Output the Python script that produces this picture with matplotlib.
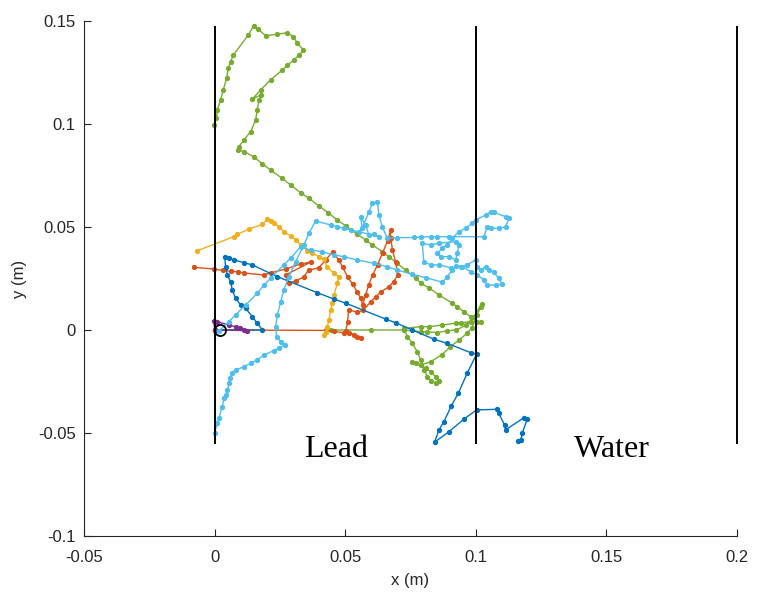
import matplotlib
matplotlib.use("Agg")
import matplotlib.pyplot as plt

# trajectory data (m)
green_x = [-0.0003, 0.0007, 0.0010, 0.0023, 0.0033, 0.0046, 0.0052, 0.0061, 0.0072, 0.0129,
           0.0150, 0.0166, 0.0195, 0.0237, 0.0278, 0.0301, 0.0317, 0.0340, 0.0323, 0.0304,
           0.0279, 0.0259, 0.0214, 0.0176, 0.0144, 0.0176, 0.0170, 0.0163, 0.0157, 0.0138,
           0.0112, 0.0093, 0.0089, 0.0112, 0.0150, 0.0183, 0.0214, 0.0259, 0.0291, 0.0329,
           0.0361, 0.0399, 0.0435, 0.0470, 0.0502, 0.0546, 0.0578, 0.0604, 0.0642, 0.0667,
           0.0699, 0.0731, 0.0770, 0.0789, 0.0820, 0.0859, 0.0910, 0.0929, 0.0954, 0.0980,
           0.1006, 0.1018, 0.0980, 0.0942, 0.0923, 0.0872, 0.0820, 0.0789, 0.0725, 0.0738,
           0.0757, 0.0776, 0.0789, 0.0802, 0.0815, 0.0827, 0.0846, 0.0859, 0.0846, 0.0827,
           0.0808, 0.0770, 0.0757, 0.0790, 0.0827, 0.0869, 0.0903, 0.0935, 0.0967, 0.0985,
           0.1006, 0.1018, 0.1022, 0.0993, 0.0964, 0.0925, 0.0891, 0.0853, 0.0815, 0.0789,
           0.0725, 0.0600, 0.0444]
green_y = [0.0995, 0.1028, 0.1068, 0.1117, 0.1165, 0.1222, 0.1270, 0.1302, 0.1335, 0.1432,
           0.1477, 0.1461, 0.1429, 0.1435, 0.1443, 0.1424, 0.1392, 0.1359, 0.1335, 0.1311,
           0.1286, 0.1262, 0.1214, 0.1165, 0.1120, 0.1141, 0.1117, 0.1068, 0.1019, 0.0963,
           0.0922, 0.0890, 0.0874, 0.0866, 0.0841, 0.0806, 0.0777, 0.0736, 0.0704, 0.0667,
           0.0639, 0.0602, 0.0569, 0.0534, 0.0505, 0.0465, 0.0437, 0.0413, 0.0380, 0.0356,
           0.0324, 0.0291, 0.0251, 0.0227, 0.0205, 0.0170, 0.0130, 0.0113, 0.0089, 0.0065,
           0.0040, 0.0040, 0.0040, 0.0035, 0.0033, 0.0024, 0.0016, 0.0016, 0.0008, -0.0033,
           -0.0065, -0.0105, -0.0146, -0.0194, -0.0227, -0.0246, -0.0259, -0.0246, -0.0227, -0.0202,
           -0.0186, -0.0162, -0.0154, -0.0170, -0.0154, -0.0121, -0.0081, -0.0049, -0.0016, 0.0010,
           0.0073, 0.0113, 0.0126, 0.0065, 0.0024, 0.0000, -0.0003, -0.0013, -0.0008, -0.0008,
           0.0000, 0.0000, 0.0000]

orange_x = [0.0000, 0.0425, 0.0456, 0.0494, 0.0513, 0.0532, 0.0547, 0.0561, 0.0502, 0.0509,
            0.0513, 0.0547, 0.0570, 0.0597, 0.0616, 0.0636, 0.0666, 0.0685, 0.0701, 0.0693,
            0.0681, 0.0674, 0.0674, 0.0662, 0.0643, 0.0624, 0.0605, 0.0590, 0.0578, 0.0567,
            0.0559, 0.0547, 0.0528, 0.0509, 0.0490, 0.0475, 0.0452, 0.0425, 0.0398, 0.0360,
            0.0341, 0.0310, 0.0283, 0.0272, 0.0368, 0.0329, 0.0272, 0.0214, 0.0188, 0.0111,
            0.0088, 0.0061, 0.0031, -0.0004, -0.0079]
orange_y = [0.0000, -0.0002, -0.0007, -0.0013, -0.0016, -0.0024, -0.0033, -0.0040, -0.0005, 0.0039,
            0.0097, 0.0087, 0.0097, 0.0136, 0.0160, 0.0184, 0.0209, 0.0233, 0.0267, 0.0330,
            0.0388, 0.0447, 0.0485, 0.0432, 0.0374, 0.0316, 0.0267, 0.0218, 0.0170, 0.0121,
            0.0155, 0.0184, 0.0223, 0.0257, 0.0306, 0.0340, 0.0379, 0.0340, 0.0301, 0.0291,
            0.0257, 0.0238, 0.0228, 0.0267, 0.0330, 0.0320, 0.0296, 0.0277, 0.0267, 0.0277,
            0.0282, 0.0286, 0.0289, 0.0296, 0.0304]

yellow_x = [-0.0066, 0.0074, 0.0087, 0.0131, 0.0183, 0.0202, 0.0214, 0.0227, 0.0246, 0.0265,
            0.0291, 0.0310, 0.0329, 0.0355, 0.0374, 0.0399, 0.0418, 0.0431, 0.0457, 0.0476,
            0.0470, 0.0457, 0.0451, 0.0444, 0.0438, 0.0431, 0.0425, 0.0418]
yellow_y = [0.0385, 0.0453, 0.0465, 0.0489, 0.0513, 0.0537, 0.0531, 0.0521, 0.0502, 0.0477,
            0.0456, 0.0437, 0.0413, 0.0385, 0.0372, 0.0356, 0.0343, 0.0307, 0.0275, 0.0259,
            0.0227, 0.0170, 0.0130, 0.0097, 0.0049, 0.0016, -0.0008, -0.0024]

blue_x = [0.0000, 0.0183, 0.0163, 0.0144, 0.0119, 0.0100, 0.0080, 0.0068, 0.0061, 0.0049,
          0.0042, 0.0039, 0.0055, 0.0074, 0.0112, 0.0144, 0.0240, 0.0393, 0.0457, 0.0502,
          0.0655, 0.0693, 0.0757, 0.0840, 0.0891, 0.0980, 0.1003, 0.0967, 0.0933, 0.0906,
          0.0878, 0.0859, 0.0842, 0.0897, 0.0954, 0.1003, 0.1080, 0.1088, 0.1110, 0.1114,
          0.1184, 0.1197, 0.1178, 0.1172, 0.1161]
blue_y = [0.0000, 0.0000, 0.0033, 0.0065, 0.0105, 0.0121, 0.0154, 0.0194, 0.0234, 0.0267,
          0.0307, 0.0353, 0.0348, 0.0340, 0.0327, 0.0316, 0.0259, 0.0181, 0.0150, 0.0130,
          0.0053, 0.0035, 0.0000, -0.0045, -0.0065, -0.0110, -0.0117, -0.0210, -0.0307, -0.0369,
          -0.0445, -0.0485, -0.0545, -0.0494, -0.0433, -0.0388, -0.0385, -0.0404, -0.0461, -0.0485,
          -0.0426, -0.0432, -0.0501, -0.0534, -0.0537]

purple_x = [0.0000, -0.0003, 0.0010, 0.0055, 0.0080, 0.0099, 0.0112, 0.0125, 0.0000]
purple_y = [0.0000, 0.0045, 0.0040, 0.0024, 0.0016, 0.0008, 0.0000, -0.0003, 0.0000]

cyan_x = [0.0016, 0.0054, 0.0080, 0.0119, 0.0163, 0.0189, 0.0214, 0.0265, 0.0291, 0.0329,
          0.0368, 0.0412, 0.0457, 0.0495, 0.0546, 0.0610, 0.0661, 0.0699, 0.0757, 0.0808,
          0.0872, 0.0891, 0.0910, 0.0923, 0.0948, 0.0980, 0.1006, 0.1031, 0.1044, 0.1076,
          0.1101, 0.1088, 0.1069, 0.1050, 0.1038, 0.1018, 0.1006, 0.0999, 0.0967, 0.0942,
          0.0904, 0.0859, 0.0827, 0.0801, 0.0795, 0.0827, 0.0859, 0.0923, 0.0935, 0.0929,
          0.0923, 0.0897, 0.0865, 0.0853, 0.0872, 0.0891, 0.0910, 0.0935, 0.0961, 0.0987,
          0.0999, 0.1038, 0.1057, 0.1069, 0.1114, 0.1127, 0.1114, 0.1088, 0.1057, 0.1044,
          0.1031, 0.0897, 0.0853, 0.0827, 0.0789, 0.0763, 0.0699, 0.0661, 0.0642, 0.0629,
          0.0623, 0.0604, 0.0591, 0.0565, 0.0559, 0.0578, 0.0591, 0.0610, 0.0629, 0.0552,
          0.0521, 0.0495, 0.0470, 0.0444, 0.0387, 0.0361, 0.0342, 0.0310, 0.0284, 0.0265,
          0.0253, 0.0240, 0.0234, 0.0237, 0.0253, 0.0268, 0.0246, 0.0227, 0.0189, 0.0163,
          0.0138, 0.0112, 0.0080, 0.0068, 0.0059, 0.0055, 0.0049, 0.0042, 0.0036, 0.0029,
          0.0016, 0.0010, 0.0000]
cyan_y = [-0.0005, 0.0040, 0.0073, 0.0121, 0.0178, 0.0218, 0.0251, 0.0316, 0.0348, 0.0404,
          0.0388, 0.0380, 0.0364, 0.0356, 0.0340, 0.0324, 0.0307, 0.0291, 0.0270, 0.0254,
          0.0232, 0.0259, 0.0291, 0.0312, 0.0307, 0.0283, 0.0267, 0.0243, 0.0218, 0.0218,
          0.0222, 0.0251, 0.0280, 0.0291, 0.0307, 0.0291, 0.0307, 0.0340, 0.0316, 0.0307,
          0.0302, 0.0316, 0.0316, 0.0332, 0.0421, 0.0413, 0.0421, 0.0429, 0.0413, 0.0372,
          0.0340, 0.0356, 0.0356, 0.0372, 0.0397, 0.0413, 0.0445, 0.0477, 0.0494, 0.0518,
          0.0534, 0.0558, 0.0574, 0.0571, 0.0550, 0.0542, 0.0501, 0.0494, 0.0494, 0.0501,
          0.0453, 0.0453, 0.0453, 0.0453, 0.0451, 0.0449, 0.0448, 0.0445, 0.0501, 0.0558,
          0.0623, 0.0615, 0.0574, 0.0494, 0.0550, 0.0510, 0.0461, 0.0465, 0.0453, 0.0477,
          0.0485, 0.0494, 0.0501, 0.0510, 0.0529, 0.0469, 0.0413, 0.0332, 0.0259, 0.0194,
          0.0137, 0.0073, 0.0016, -0.0033, -0.0057, -0.0073, -0.0089, -0.0100, -0.0121, -0.0146,
          -0.0162, -0.0178, -0.0194, -0.0210, -0.0234, -0.0259, -0.0291, -0.0316, -0.0332, -0.0372,
          -0.0429, -0.0453, -0.0501]

boundaries = [0.0, 0.1, 0.2]
region_labels = ["Lead", "Water"]
region_centres = [0.0467, 0.1520]

plt.rcParams["font.family"] = ["Liberation Sans", "DejaVu Sans"]

fig = plt.figure(figsize=(7.59, 5.96), dpi=100)
ax = fig.add_axes([0.1107, 0.1007, 0.8603, 0.8641])

# MATLAB default colour order
tracks = [
    (green_x, green_y, "#77AC30", 1),
    (orange_x, orange_y, "#D95319", 2),
    (yellow_x, yellow_y, "#EDB120", 3),
    (blue_x, blue_y, "#0072BD", 4),
    (purple_x, purple_y, "#7E2F8E", 5),
    (cyan_x, cyan_y, "#4DBEEE", 6),
]
for tx, ty, col, z in tracks:
    ax.plot(tx, ty, "-o", color=col, lw=1.0, ms=3.0, mew=0.8,
            mfc=col, zorder=z)

# start position
ax.plot([0.002], [0.0], "o", ms=8, mfc="none", mec="black", mew=1.3, zorder=8)

# material boundaries
for b in boundaries:
    ax.plot([b, b], [-0.055, 0.147], color="black", lw=1.4, zorder=7,
            clip_on=False)

for label, xc in zip(region_labels, region_centres):
    ax.text(xc, -0.0578, label, ha="center", va="center", fontsize=23,
            family=["Liberation Serif", "DejaVu Serif"])

ax.set_xlim(-0.05, 0.2)
ax.set_ylim(-0.1, 0.15)
ax.set_xticks([-0.05, 0, 0.05, 0.1, 0.15, 0.2])
ax.set_xticklabels(["-0.05", "0", "0.05", "0.1", "0.15", "0.2"])
ax.set_yticks([-0.1, -0.05, 0, 0.05, 0.1, 0.15])
ax.set_yticklabels(["-0.1", "-0.05", "0", "0.05", "0.1", "0.15"])

for s in ["top", "right"]:
    ax.spines[s].set_visible(False)
for s in ["left", "bottom"]:
    ax.spines[s].set_color("#262626")
    ax.spines[s].set_linewidth(0.8)

ax.tick_params(direction="in", length=5, width=0.8, color="#262626",
               labelsize=12, labelcolor="#262626")
ax.tick_params(axis="x", pad=10)
ax.tick_params(axis="y", pad=6)

ax.set_xlabel("x (m)", fontsize=12, color="#262626", labelpad=6)
ax.set_ylabel("y (m)", fontsize=12, color="#262626", labelpad=8)

fig.savefig("out.png", dpi=100)
